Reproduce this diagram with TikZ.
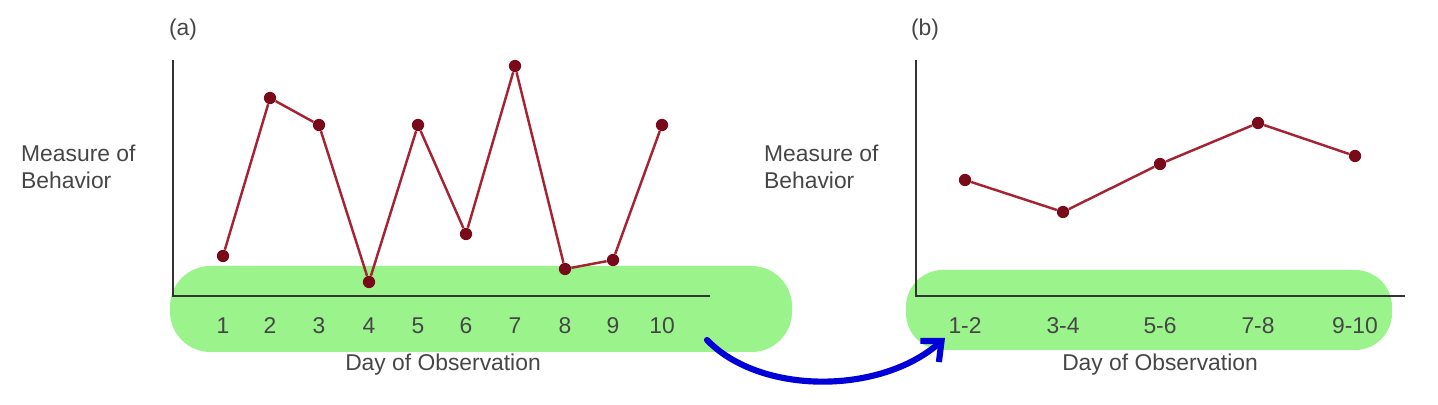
\documentclass[tikz,border=0pt]{standalone}
\usepackage{fontspec}
\setmainfont{Liberation Sans}
\usetikzlibrary{arrows.meta}
\definecolor{ln}{RGB}{165,35,50}
\definecolor{dt}{RGB}{120,10,25}
\definecolor{hl}{RGB}{120,240,100}
\definecolor{tx}{RGB}{70,70,70}
\begin{document}
\begin{tikzpicture}[x=0.02cm,y=-0.02cm,
  lbl/.style={text=tx,font=\fontsize{13}{15}\selectfont},
  axis/.style={draw=black!80,line width=1.3pt},
  dat/.style={ln,line width=1.4pt},
  dot/.style={circle,fill=dt,inner sep=0pt,minimum size=7pt}]
\useasboundingbox (0,0) rectangle (1438,405);
% highlights
\fill[hl,opacity=0.75,rounded corners=23pt] (170,266) rectangle (792,352);
\fill[hl,opacity=0.75,rounded corners=21pt] (906,270) rectangle (1392,350);
% panel a
\draw[axis] (173,60) -- (173,296) -- (710,296);
\node[lbl] (la) at (183,30) {(a)};
\node[lbl,align=left,anchor=west] (ya) at (15,167) {Measure of\\Behavior};
\node[lbl] (xa) at (443,365) {Day of Observation};
\foreach \x/\t in {223/1,270/2,319/3,369/4,418/5,466/6,515/7,565/8,613/9,662/10}
  \node[lbl] (ta\t) at (\x,326) {\t};
\foreach \i/\x/\y in {1/223/256,2/270/98,3/319/125,4/369/282,5/418/125,6/466/234,7/515/66,8/565/269,9/613/260,10/662/125}
  \node[dot] (a\i) at (\x,\y) {};
\draw[dat] (a1)--(a2)--(a3)--(a4)--(a5)--(a6)--(a7)--(a8)--(a9)--(a10);
% panel b
\draw[axis] (916,60) -- (916,296) -- (1405,296);
\node[lbl] (lb) at (925,30) {(b)};
\node[lbl,align=left,anchor=west] (yb) at (758,167) {Measure of\\Behavior};
\node[lbl] (xb) at (1160,365) {Day of Observation};
\foreach \x/\t/\n in {965/1-2/1,1063/3-4/2,1160/5-6/3,1258/7-8/4,1355/9-10/5}
  \node[lbl] (tb\n) at (\x,326) {\t};
\foreach \i/\x/\y in {1/965/180,2/1063/212,3/1160/164,4/1258/123,5/1355/156}
  \node[dot] (b\i) at (\x,\y) {};
\draw[dat] (b1)--(b2)--(b3)--(b4)--(b5);
% arrow
\coordinate (s) at (707,340);
\coordinate (e) at (945,338);
\draw[blue!85!black,line width=3.5pt,line cap=round,-{Straight Barb[length=9pt,width=16pt]}] (s) .. controls (760,395) and (880,395) .. (e);
\end{tikzpicture}
\end{document}
